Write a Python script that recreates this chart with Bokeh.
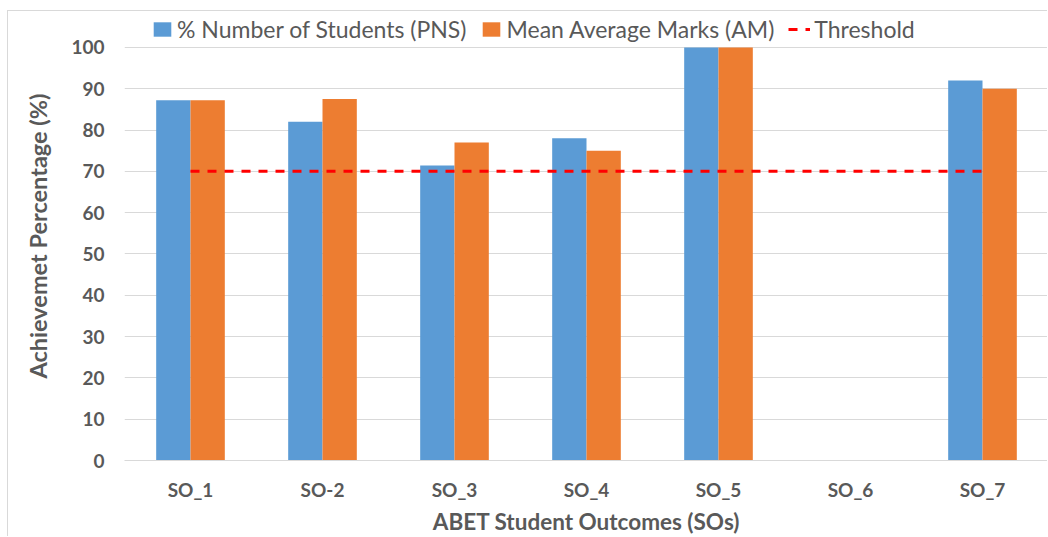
from bokeh.plotting import figure
from bokeh.models import ColumnDataSource, Range1d, FixedTicker, Legend, LegendItem
from bokeh.transform import dodge
from bokeh.embed import file_html
from bokeh.resources import INLINE

categories = ["SO_1", "SO-2", "SO_3", "SO_4", "SO_5", "SO_6", "SO_7"]
pns = [87.2, 82.0, 71.4, 78.0, 100.0, float("nan"), 92.0]
am = [87.2, 87.5, 77.0, 75.0, 100.0, float("nan"), 90.0]
threshold = 70
y_ticks = [0, 10, 20, 30, 40, 50, 60, 70, 80, 90, 100]

idx = list(range(len(categories)))
src = ColumnDataSource(dict(x=idx, pns=pns, am=am))

FONT = "Lato"
GREY = "#595959"

# frame spans from the top of the chart; y range end leaves room for the legend above 100
p = figure(width=1040, height=526, output_backend="svg", toolbar_location=None,
           x_range=Range1d(-0.5, 6.5), y_range=Range1d(0, 108.7),
           min_border_left=116, min_border_right=0, min_border_top=0, min_border_bottom=76)
p.styles = {"margin-left": "7px", "margin-top": "10px",
            "border-top": "1px solid #d9d9d9", "border-left": "1px solid #d9d9d9"}
p.outline_line_color = None

b1 = p.vbar(x=dodge("x", -0.13), top="pns", width=0.26, source=src,
            fill_color="#5B9BD5", line_color=None)
b2 = p.vbar(x=dodge("x", 0.13), top="am", width=0.26, source=src,
            fill_color="#ED7D31", line_color=None)
ln = p.line(x=[idx[0], idx[-1]], y=[threshold, threshold], line_color="#FF0000",
            line_width=3, line_dash="9 8")

p.xaxis.ticker = FixedTicker(ticks=idx)
p.xaxis.major_label_overrides = {i: c for i, c in enumerate(categories)}
p.yaxis.ticker = FixedTicker(ticks=y_ticks)
p.xgrid.grid_line_color = None
p.ygrid.grid_line_color = "#d9d9d9"
p.ygrid.ticker = FixedTicker(ticks=y_ticks)

for ax in (p.xaxis, p.yaxis):
    ax.major_tick_line_color = None
    ax.minor_tick_line_color = None
    ax.major_label_text_font = FONT
    ax.major_label_text_font_style = "bold"
    ax.major_label_text_font_size = "19px"
    ax.major_label_text_color = GREY
    ax.axis_label_text_font = FONT
    ax.axis_label_text_font_style = "bold"
    ax.axis_label_text_font_size = "22.5px"
    ax.axis_label_text_color = GREY
p.yaxis.axis_label_text_font_size = "23.5px"
p.yaxis.axis_line_color = None
p.xaxis.axis_line_color = "#d9d9d9"
p.xaxis.major_label_standoff = 11
p.yaxis.major_label_standoff = 14
p.xaxis.axis_label = "ABET Student Outcomes (SOs)"
p.yaxis.axis_label = "Achievemet Percentage (%)"
p.xaxis.axis_label_standoff = 4
p.yaxis.axis_label_standoff = 16

legend = Legend(items=[
    LegendItem(label="% Number of Students (PNS)", renderers=[b1]),
    LegendItem(label="Mean Average Marks (AM)", renderers=[b2]),
    LegendItem(label="Threshold", renderers=[ln]),
], orientation="horizontal", location=(27, 417))
legend.label_text_font = FONT
legend.label_text_font_size = "23px"
legend.label_text_color = GREY
legend.glyph_width = 22
legend.glyph_height = 18
legend.label_standoff = 4
legend.spacing = 14
legend.padding = 4
legend.margin = 0
legend.border_line_color = None
legend.background_fill_alpha = 0
p.add_layout(legend, "center")

open("out.html", "w").write(file_html(p, INLINE))
